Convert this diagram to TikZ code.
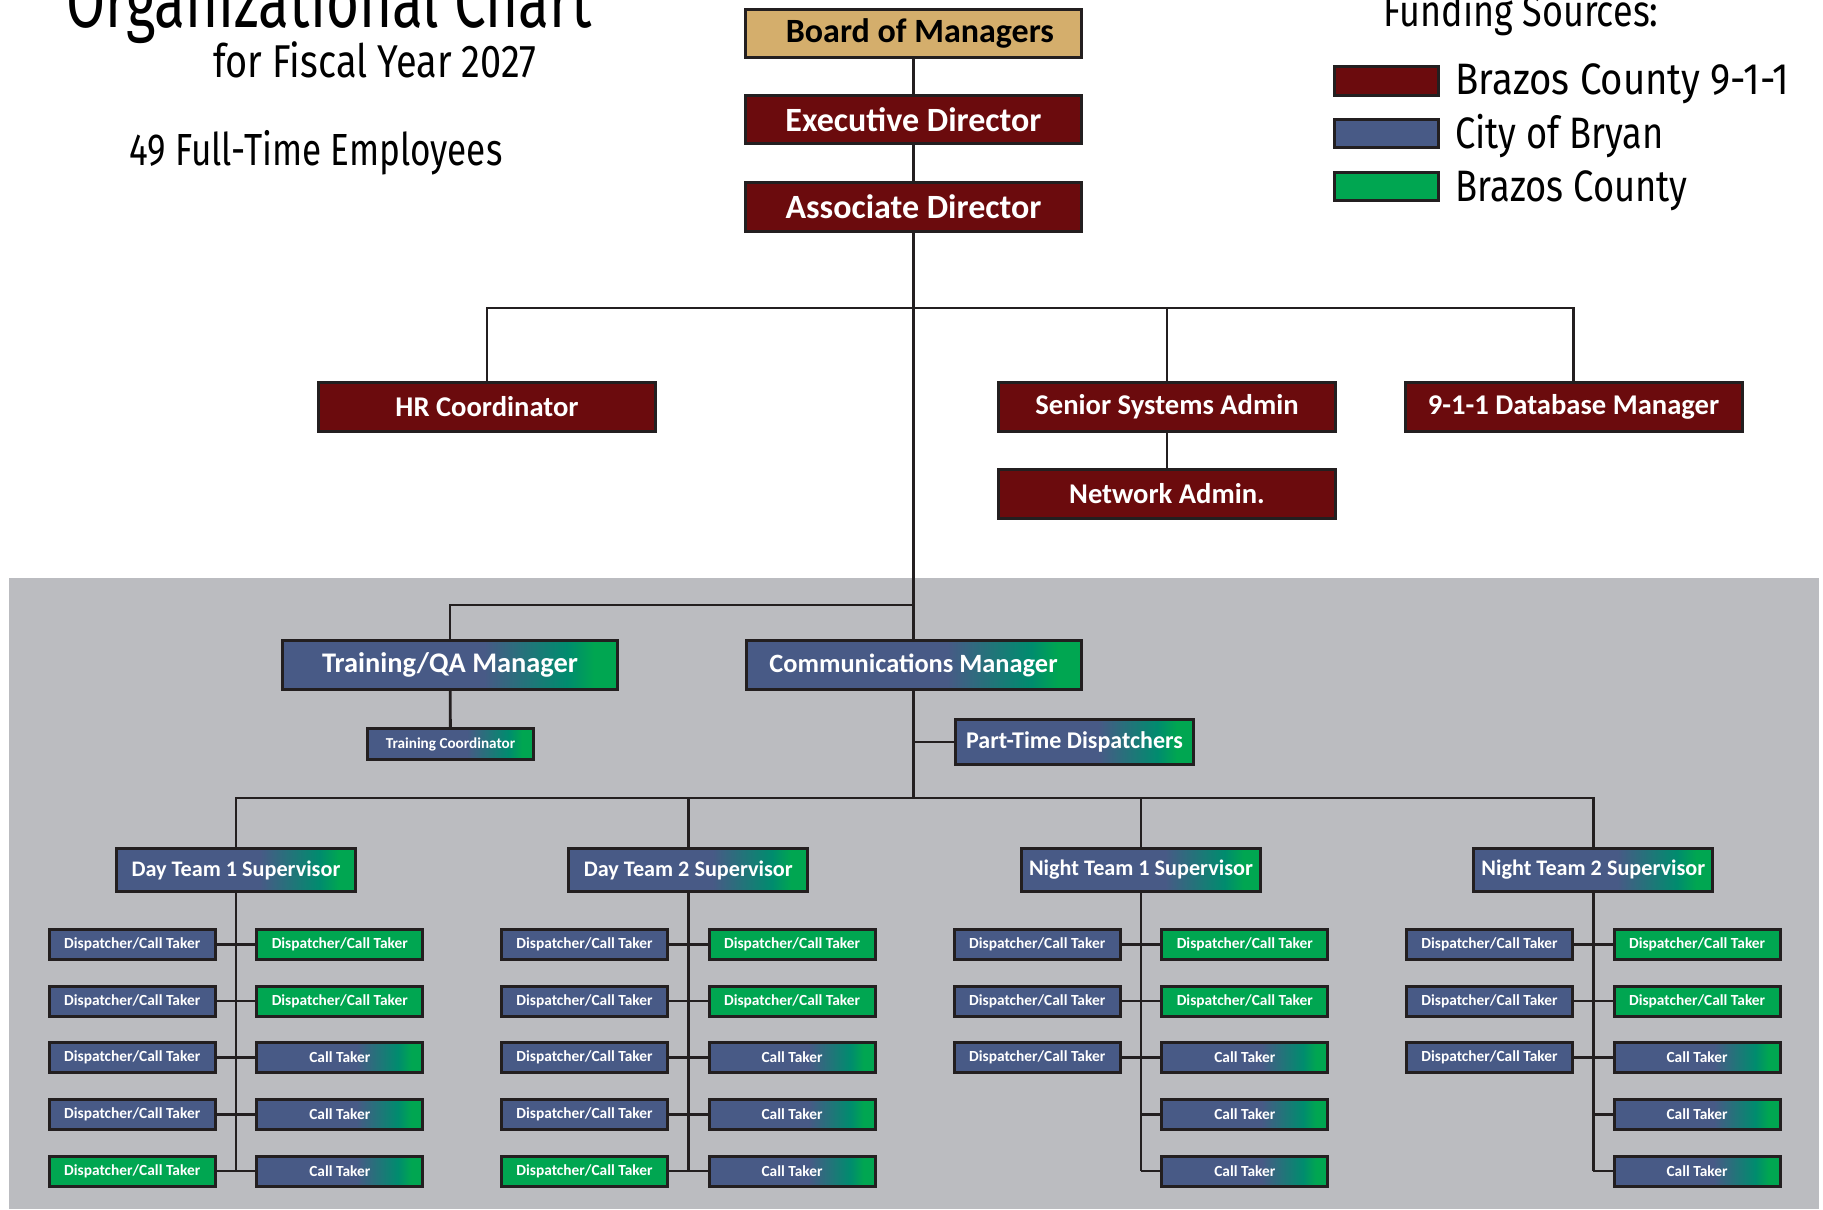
\documentclass[tikz,border=0pt]{standalone}
\usepackage{fontspec}
\usepackage{graphicx}
\setmainfont{Carlito}
\newfontfamily\titlefont{Fira Sans}
\definecolor{cMaroon}{RGB}{107,11,13}
\definecolor{cBlue}{RGB}{72,90,134}
\definecolor{cGreen}{RGB}{0,166,81}
\definecolor{cTeal}{RGB}{0,140,110}
\definecolor{cGold}{RGB}{212,174,108}
\definecolor{cGray}{RGB}{187,188,192}
\definecolor{lineC}{RGB}{35,31,32}
\pgfdeclarehorizontalshading{bgshade}{100bp}{color(0bp)=(cBlue); color(55bp)=(cBlue); color(67.5bp)=(cTeal); color(71.5bp)=(cGreen); color(100bp)=(cGreen)}
\newcommand\sqztext[3]{\resizebox{#1}{\height}{\titlefont\fontsize{#2}{#2}\selectfont #3}}
\begin{document}
\begin{tikzpicture}[x=0.5pt,y=-0.5pt,
  conn/.style={draw=lineC, line width=1.4pt},
  orgbox/.style={draw=lineC, line width=1.5pt, inner sep=0pt, text=white, font=\bfseries},
  topbox/.style={orgbox, fill=cMaroon, minimum width=168pt, minimum height=24pt, font=\bfseries\fontsize{17}{19}\selectfont},
  midbox/.style={orgbox, fill=cMaroon, minimum width=168.5pt, minimum height=24.5pt, font=\bfseries\fontsize{14.3}{16}\selectfont},
  gradbox/.style={orgbox, shade, shading=bgshade},
  mgrbox/.style={gradbox, minimum width=167.5pt, minimum height=24.5pt},
  supbox/.style={gradbox, minimum width=119.5pt, minimum height=21.5pt, font=\bfseries\fontsize{11.1}{12}\selectfont},
  dbox/.style={orgbox, minimum width=83pt, minimum height=15pt, font=\bfseries\fontsize{7.7}{9}\selectfont},
  bluebox/.style={dbox, fill=cBlue},
  greenbox/.style={dbox, fill=cGreen},
  ctbox/.style={dbox, shade, shading=bgshade},
  swatch/.style={draw=lineC, line width=1.5pt, inner sep=0pt, minimum width=52pt, minimum height=14.25pt},
  plain/.style={inner sep=0pt, anchor=base west}
]
\useasboundingbox (0,0) rectangle (1823,1209);
% gray background
\fill[cGray] (9,578) rectangle (1819,1209);

% titles
\node[plain] (title) at (66,28) {\sqztext{262.5pt}{38}{Organizational Chart}};
\node[plain] (subtitle) at (213,78) {\sqztext{161.5pt}{23}{for Fiscal Year 2027}};
\node[plain] (count) at (129,166) {\sqztext{186.5pt}{22.5}{49 Full-Time Employees}};

% legend
\node[plain] (fund) at (1383,27) {\sqztext{137.5pt}{22}{Funding Sources:}};
\node[swatch, fill=cMaroon] (lg1) at (1386.5,81) {};
\node[swatch, fill=cBlue] (lg2) at (1386.5,133.5) {};
\node[swatch, fill=cGreen] (lg3) at (1386.5,186.7) {};
\node[plain] (lt1) at (1455,95) {\sqztext{167pt}{22}{Brazos County 9-1-1}};
\node[plain] (lt2) at (1455,149) {\sqztext{104pt}{22}{City of Bryan}};
\node[plain] (lt3) at (1455,201.7) {\sqztext{116pt}{22}{Brazos County}};

% top chain
\node[topbox, fill=cGold, text=black] (board) at (913.5,33.5) {\hspace*{6.4pt}Board of Managers};
\node[topbox] (exec) at (913.5,120) {Executive Director};
\node[topbox] (assoc) at (913.5,207) {Associate Director};

\node[midbox] (hr) at (487,407) {HR Coordinator};
\node[midbox] (ssa) at (1167,407) {Senior Systems Admin};
\node[midbox] (db) at (1573.5,407) {9-1-1 Database Manager};
\node[midbox] (net) at (1167,494) {Network Admin.};

\node[mgrbox, font=\bfseries\fontsize{14.2}{16}\selectfont] (tqa) at (450,665) {Training/QA Manager};
\node[mgrbox, font=\bfseries\fontsize{13.2}{15}\selectfont] (comm) at (913.5,665) {Communications Manager};
\node[gradbox, minimum width=83pt, minimum height=15.5pt, font=\bfseries\fontsize{7.6}{9}\selectfont] (tc) at (450.5,744) {Training Coordinator};
\node[gradbox, minimum width=119pt, minimum height=22.5pt, font=\bfseries\fontsize{12}{14}\selectfont] (ptd) at (1074.5,742) {Part-Time Dispatchers};

\coordinate (bar1) at (913.5,308);
\coordinate (bar2) at (913.5,605);
\coordinate (bar3) at (913.5,798);

\draw[conn] (board) -- (exec);
\draw[conn] (exec) -- (assoc);
\draw[conn] (assoc.south) -- (comm.north);
\draw[conn] (hr.north) |- (bar1) -| (db.north);
\draw[conn] (ssa.north) -- (ssa.north |- bar1);
\draw[conn] (ssa) -- (net);
\draw[conn] (tqa.north) |- (bar2);
\draw[conn] (tqa) -- (tc);
\draw[conn] (comm.south) -- (bar3);
\draw[conn] (ptd.west) -- (comm.south |- ptd.west);

% teams
\foreach \tm/\T/\nl/\sname in {1/236/5/Day Team 1 Supervisor, 2/688.3/5/Day Team 2 Supervisor, 3/1141/3/Night Team 1 Supervisor, 4/1593.3/3/Night Team 2 Supervisor}{
  \node[supbox] (s\tm) at (\T,870) {\sname};
  \foreach \rw/\y in {1/944.5,2/1001,3/1057.5,4/1114.5,5/1171}{
    \ifnum\rw<3
      \node[greenbox] (r\tm\rw) at (\T+103.8,\y) {Dispatcher/Call Taker};
    \else
      \node[ctbox] (r\tm\rw) at (\T+103.8,\y) {Call Taker};
    \fi
    \draw[conn] (s\tm.south |- r\tm\rw.west) -- (r\tm\rw.west);
    \ifnum\rw>\nl\relax\else
      \ifnum\rw=5
        \node[greenbox] (l\tm\rw) at (\T-103.8,\y) {Dispatcher/Call Taker};
      \else
        \node[bluebox] (l\tm\rw) at (\T-103.8,\y) {Dispatcher/Call Taker};
      \fi
      \draw[conn] (l\tm\rw.east) -- (s\tm.south |- l\tm\rw.east);
    \fi
  }
  \draw[conn] (s\tm.south) -- (s\tm.south |- r\tm5.west);
}
\draw[conn] (s1.north) |- (bar3) -| (s4.north);
\draw[conn] (s2.north) -- (s2.north |- bar3);
\draw[conn] (s3.north) -- (s3.north |- bar3);
\end{tikzpicture}
\end{document}
